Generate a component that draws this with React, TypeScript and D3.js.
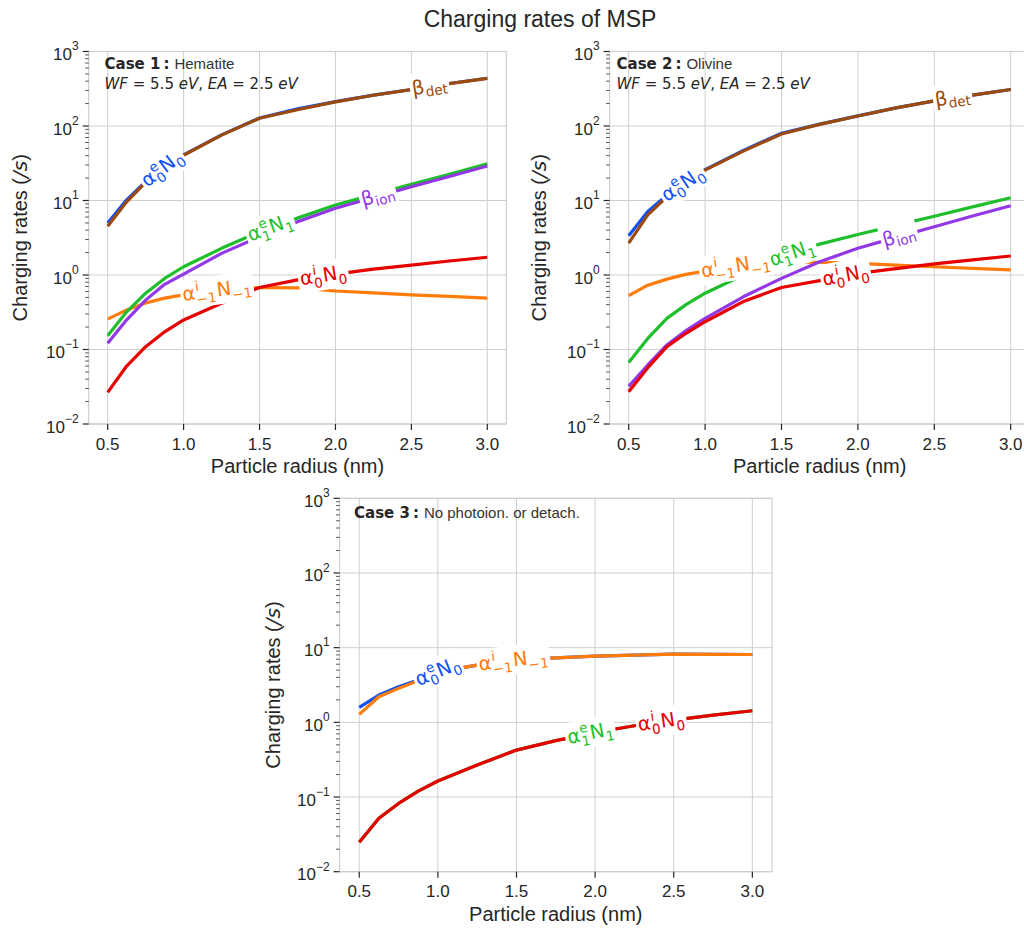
import React from 'react';
import * as d3 from 'd3';

// ---------------- data ----------------
const radius = [0.5, 0.625, 0.75, 0.875, 1.0, 1.25, 1.5, 1.75, 2.0, 2.25, 2.5, 2.75, 3.0];

// Case 1: Hematite
const c1Blue = [5.0, 10.2, 17.9, 28, 41, 76, 128, 170, 212, 260, 309, 372, 437];
const c1Brown = [4.5, 9.6, 17.5, 27.6, 40.5, 75.5, 127, 165, 211, 259, 308, 371, 436];
const c1Green = [0.153, 0.32, 0.57, 0.9, 1.29, 2.28, 3.8, 5.8, 8.7, 12, 16.5, 22.5, 31];
const c1Purple = [0.121, 0.25, 0.46, 0.75, 1.03, 1.95, 3.27, 5.2, 7.85, 11, 15.3, 21, 29];
const c1Red = [0.0266, 0.06, 0.109, 0.173, 0.249, 0.417, 0.68, 0.86, 1.03, 1.2, 1.36, 1.54, 1.73];
const c1Orange = [0.256, 0.34, 0.42, 0.49, 0.54, 0.63, 0.68, 0.67, 0.61, 0.575, 0.54, 0.515, 0.49];

// Case 2: Olivine
const c2Blue = [3.37, 7.1, 11.8, 17.5, 26, 47, 80, 106, 137, 175, 217, 260, 309];
const c2Brown = [2.67, 6.4, 11.2, 17, 25.6, 46, 78, 105, 136, 175, 217, 260, 309];
const c2Green = [0.067, 0.141, 0.262, 0.4, 0.57, 1.0, 1.74, 2.6, 3.5, 4.63, 6.15, 8.2, 10.9];
const c2Purple = [0.032, 0.062, 0.115, 0.18, 0.262, 0.51, 0.9, 1.51, 2.28, 3.2, 4.45, 6.2, 8.5];
const c2Red = [0.027, 0.057, 0.109, 0.165, 0.236, 0.44, 0.68, 0.84, 1.05, 1.22, 1.41, 1.6, 1.8];
const c2Orange = [0.53, 0.73, 0.88, 1.02, 1.13, 1.36, 1.51, 1.48, 1.43, 1.36, 1.29, 1.23, 1.17];

// Case 3: no photoionisation or detachment
const c3Blue = [1.59, 2.32, 3.0, 3.7, 4.75, 5.85, 6.8, 7.3, 7.7, 7.95, 8.2, 8.15, 8.1];
const c3Orange = [1.28, 2.2, 2.85, 3.6, 4.75, 5.85, 6.8, 7.3, 7.7, 7.95, 8.2, 8.15, 8.1];
const c3Green = [0.0248, 0.052, 0.082, 0.12, 0.164, 0.268, 0.425, 0.57, 0.73, 0.9, 1.07, 1.25, 1.43];
const c3Red = [0.0248, 0.052, 0.082, 0.12, 0.164, 0.268, 0.425, 0.57, 0.73, 0.9, 1.07, 1.25, 1.43];

const xTicks = [0.5, 1.0, 1.5, 2.0, 2.5, 3.0];
const yTickExps = [-2, -1, 0, 1, 2, 3];
const caseNames = ['Case 1', 'Case 2', 'Case 3'];
const caseSubtitles = ['Hematite', 'Olivine', 'No photoion. or detach.'];
const title = 'Charging rates of MSP';
const xLabel = 'Particle radius (nm)';

// ---------------- style ----------------
const COLORS: Record<string, string> = {
  blue: '#1050f5',
  orange: '#ff7b0a',
  green: '#1fbf2c',
  purple: '#9238e6',
  red: '#e60000',
  brown: '#9c4a0c',
};
const DRAW_ORDER = ['blue', 'orange', 'green', 'purple', 'red', 'brown'];
const SANS = '"Liberation Sans", Arial, sans-serif';
const MATH = '"DejaVu Sans", sans-serif';
const TXT = '#262626';
const GRID = '#cfcfcf';

type Piece = { b: string; sub?: string; sup?: string };
const LABELS: Record<string, Piece[]> = {
  blue: [{ b: 'α', sup: 'e', sub: '0' }, { b: 'N', sub: '0' }],
  green: [{ b: 'α', sup: 'e', sub: '1' }, { b: 'N', sub: '1' }],
  red: [{ b: 'α', sup: 'i', sub: '0' }, { b: 'N', sub: '0' }],
  orange: [{ b: 'α', sup: 'i', sub: '−1' }, { b: 'N', sub: '−1' }],
  purple: [{ b: 'β', sub: 'ion' }],
  brown: [{ b: 'β', sub: 'det' }],
};

let _ctx: CanvasRenderingContext2D | null = null;
function tw(s: string, font: string): number {
  if (!_ctx) _ctx = document.createElement('canvas').getContext('2d');
  if (!_ctx) return s.length * 10;
  _ctx.font = font;
  return _ctx.measureText(s).width;
}
const mfont = (size: number) => `${size}px "DejaVu Sans"`;

function MathLabel({ x, y, angle, pieces, color, fs }: { x: number; y: number; angle: number; pieces: Piece[]; color: string; fs: number }) {
  const items: { t: string; x: number; dy: number; size: number }[] = [];
  let cx = 0;
  const ss = fs * 0.7;
  pieces.forEach((p) => {
    items.push({ t: p.b, x: cx, dy: 0, size: fs });
    cx += tw(p.b, mfont(fs));
    let adv = 0;
    if (p.sup) {
      items.push({ t: p.sup, x: cx + 0.5, dy: -0.42 * fs, size: ss });
      adv = Math.max(adv, tw(p.sup, mfont(ss)) + 0.5);
    }
    if (p.sub) {
      const low = /[0-9]/.test(p.sub) ? 0.26 : 0.18;
      items.push({ t: p.sub, x: cx + 0.5, dy: low * fs, size: ss });
      adv = Math.max(adv, tw(p.sub, mfont(ss)) + 0.5);
    }
    cx += adv + 1;
  });
  const w = cx - 1;
  const base = fs * 0.3;
  return (
    <g transform={`translate(${x},${y}) rotate(${angle})`}>
      <rect x={-w / 2 - 2} y={-fs * 0.78} width={w + 4} height={fs * 1.5} fill="#fff" />
      {items.map((it, i) => (
        <text key={i} x={it.x - w / 2} y={base + it.dy} fontFamily={MATH} fontSize={it.size} fill={color}>
          {it.t}
        </text>
      ))}
    </g>
  );
}

type Geom = { left: number; right: number; top: number; bottom: number; ylabX: number; caseX: number; caseY: number };

function Panel({ id, g, series, labels, caseIdx, showWF }: {
  id: string; g: Geom; series: Record<string, number[]>; labels: { key: string; x: number }[]; caseIdx: number; showWF: boolean;
}) {
  const x = d3.scaleLinear().domain([0.375, 3.125]).range([g.left, g.right]);
  const y = d3.scaleLog().domain([1e-2, 1e3]).range([g.bottom, g.top]);
  const line = d3.line<number>().x((_, i) => x(radius[i])).y((d) => y(d));
  const minor: number[] = [];
  for (let e = -2; e < 3; e++) for (let k = 2; k <= 9; k++) minor.push(k * Math.pow(10, e));

  const labelPos = (vals: number[], xv: number) => {
    let i = 0;
    while (i < radius.length - 2 && radius[i + 1] < xv) i++;
    const x0 = x(radius[i]), x1 = x(radius[i + 1]);
    const y0 = y(vals[i]), y1 = y(vals[i + 1]);
    const t = (xv - radius[i]) / (radius[i + 1] - radius[i]);
    return { px: x0 + t * (x1 - x0), py: y0 + t * (y1 - y0), ang: (Math.atan2(y1 - y0, x1 - x0) * 180) / Math.PI };
  };
  const cy = (g.top + g.bottom) / 2;
  const cxm = (g.left + g.right) / 2;

  return (
    <g>
      <defs>
        <clipPath id={id}>
          <rect x={g.left} y={g.top} width={g.right - g.left} height={g.bottom - g.top} />
        </clipPath>
      </defs>
      <rect x={g.left} y={g.top} width={g.right - g.left} height={g.bottom - g.top} fill="#fff" />
      {xTicks.map((t) => (
        <line key={'gx' + t} x1={x(t)} x2={x(t)} y1={g.top} y2={g.bottom} stroke={GRID} strokeWidth={1} />
      ))}
      {yTickExps.map((e) => (
        <line key={'gy' + e} x1={g.left} x2={g.right} y1={y(Math.pow(10, e))} y2={y(Math.pow(10, e))} stroke={GRID} strokeWidth={1} />
      ))}
      <rect x={g.left} y={g.top} width={g.right - g.left} height={g.bottom - g.top} fill="none" stroke={GRID} strokeWidth={1.2} />
      <g clipPath={`url(#${id})`}>
        {DRAW_ORDER.filter((k) => series[k]).map((k) => (
          <path key={k} d={line(series[k]) || ''} fill="none" stroke={COLORS[k]} strokeWidth={3.2} strokeLinejoin="round" strokeLinecap="butt" />
        ))}
        {labels.map((l) => {
          const p = labelPos(series[l.key], l.x);
          return <MathLabel key={'l' + l.key} x={p.px} y={p.py} angle={p.ang} pieces={LABELS[l.key]} color={COLORS[l.key]} fs={19.5} />;
        })}
      </g>
      {xTicks.map((t) => (
        <g key={'xt' + t}>
          <line x1={x(t)} x2={x(t)} y1={g.bottom} y2={g.bottom + 6} stroke={TXT} strokeWidth={1.2} />
          <text x={x(t)} y={g.bottom + 25.5} textAnchor="middle" fontFamily={SANS} fontSize={17} fill={TXT}>
            {t.toFixed(1)}
          </text>
        </g>
      ))}
      {minor.map((m, i) => (
        <line key={'mt' + i} x1={g.left - 3.5} x2={g.left} y1={y(m)} y2={y(m)} stroke={TXT} strokeWidth={0.8} />
      ))}
      {yTickExps.map((e) => (
        <g key={'yt' + e}>
          <line x1={g.left - 6} x2={g.left} y1={y(Math.pow(10, e))} y2={y(Math.pow(10, e))} stroke={TXT} strokeWidth={1.2} />
          <text x={g.left - 10} y={y(Math.pow(10, e)) + 8.5} textAnchor="end" fontFamily={SANS} fontSize={17} fill={TXT}>
            10
            <tspan dy={-9.7} fontSize={12}>
              {e < 0 ? '−' + Math.abs(e) : String(e)}
            </tspan>
          </text>
        </g>
      ))}
      <text x={cxm} y={g.bottom + 49} textAnchor="middle" fontFamily={SANS} fontSize={20} fill={TXT}>
        {xLabel}
      </text>
      <text transform={`translate(${g.ylabX},${cy}) rotate(-90)`} textAnchor="middle" fontFamily={SANS} fontSize={20} fill={TXT}>
        Charging rates (
        <tspan fontFamily={MATH} fontStyle="italic">/s</tspan>)
      </text>
      <text x={g.caseX} y={g.caseY} fontSize={15} fill={TXT}>
        <tspan fontFamily={MATH} fontWeight="bold">{caseNames[caseIdx]}</tspan>
        <tspan fontFamily={MATH} fontWeight="bold" dx={3}>:</tspan>
        <tspan fontFamily={SANS} dx={5} fill="#333">{caseSubtitles[caseIdx]}</tspan>
      </text>
      {showWF && (
        <text x={g.caseX} y={g.caseY + 20} fontSize={15} fill={TXT} fontFamily={MATH}>
          <tspan fontStyle="italic">WF</tspan>
          <tspan> = 5.5 </tspan>
          <tspan fontStyle="italic">eV</tspan>
          <tspan>,  </tspan>
          <tspan fontStyle="italic">EA</tspan>
          <tspan> = 2.5 </tspan>
          <tspan fontStyle="italic">eV</tspan>
        </text>
      )}
    </g>
  );
}

const G1: Geom = { left: 88.7, right: 506.3, top: 51.5, bottom: 424, ylabX: 27, caseX: 104.5, caseY: 68.5 };
const G2: Geom = { left: 609.6, right: 1029.8, top: 51.5, bottom: 424, ylabX: 546, caseX: 616.5, caseY: 68.5 };
const G3: Geom = { left: 339.6, right: 772, top: 498.3, bottom: 871.7, ylabX: 280, caseX: 354, caseY: 517.8 };

export default function App() {
  const s1 = { blue: c1Blue, orange: c1Orange, green: c1Green, purple: c1Purple, red: c1Red, brown: c1Brown };
  const s2 = { blue: c2Blue, orange: c2Orange, green: c2Green, purple: c2Purple, red: c2Red, brown: c2Brown };
  const s3 = { blue: c3Blue, orange: c3Orange, green: c3Green, red: c3Red };
  const l1 = [
    { key: 'blue', x: 0.86 }, { key: 'brown', x: 2.62 }, { key: 'green', x: 1.57 },
    { key: 'purple', x: 2.28 }, { key: 'red', x: 1.92 }, { key: 'orange', x: 1.22 },
  ];
  const l2 = [
    { key: 'blue', x: 0.855 }, { key: 'brown', x: 2.62 }, { key: 'orange', x: 1.2 },
    { key: 'green', x: 1.57 }, { key: 'purple', x: 2.27 }, { key: 'red', x: 1.92 },
  ];
  const l3 = [
    { key: 'blue', x: 1.0 }, { key: 'orange', x: 1.48 }, { key: 'green', x: 1.97 }, { key: 'red', x: 2.42 },
  ];
  return (
    <div style={{ position: 'absolute', left: 0, top: 0 }}>
      <svg width={1024} height={931} viewBox="0 0 1024 931" style={{ display: 'block', background: '#fff' }}>
        <rect width={1024} height={931} fill="#fff" />
        <text x={540} y={26.5} textAnchor="middle" fontFamily={SANS} fontSize={23} fill={TXT}>
          {title}
        </text>
        <Panel id="clip1" g={G1} series={s1} labels={l1} caseIdx={0} showWF={true} />
        <Panel id="clip2" g={G2} series={s2} labels={l2} caseIdx={1} showWF={true} />
        <Panel id="clip3" g={G3} series={s3} labels={l3} caseIdx={2} showWF={false} />
      </svg>
    </div>
  );
}
